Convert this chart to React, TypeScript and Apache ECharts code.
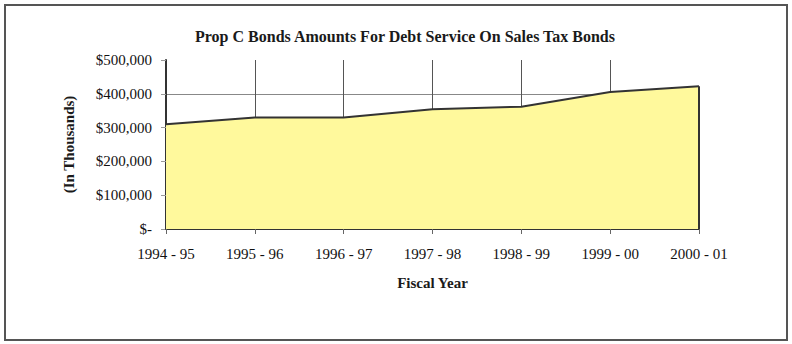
import React, { useEffect, useRef } from "react";
import * as echarts from "echarts";

const title = "Prop C Bonds Amounts For Debt Service On Sales Tax Bonds";
const categories = ["1994 - 95", "1995 - 96", "1996 - 97", "1997 - 98", "1998 - 99", "1999 - 00", "2000 - 01"];
const amounts = [310000, 330000, 330000, 354000, 362000, 405000, 422000];
const yTicks = [0, 100000, 200000, 300000, 400000, 500000];
const yAxisName = "(In Thousands)";
const xAxisName = "Fiscal Year";

const fmt = (v: number) => (v === 0 ? "$-" : "$" + v.toLocaleString("en-US"));

export default function App() {
  const ref = useRef<HTMLDivElement>(null);
  useEffect(() => {
    if (!ref.current) return;
    const chart = echarts.init(ref.current, null, { renderer: "svg" });
    const serif = "'Liberation Serif', 'Times New Roman', serif";
    const last = categories.length - 1;
    chart.setOption({
      animation: false,
      backgroundColor: "#ffffff",
      title: {
        text: title,
        left: 400,
        top: 23,
        textAlign: "center",
        textStyle: { fontFamily: serif, fontWeight: "bold", fontSize: 16, color: "#1a1a1a" },
      },
      graphic: [
        {
          type: "rect",
          shape: { x: 5, y: 5, width: 782, height: 335 },
          style: { fill: "none", stroke: "#555", lineWidth: 2 },
          silent: true,
          z: 100,
        },
      ],
      grid: { left: 166, right: 93, top: 60, bottom: 115 },
      xAxis: {
        type: "category",
        data: categories,
        boundaryGap: false,
        name: xAxisName,
        nameLocation: "middle",
        nameGap: 46,
        nameTextStyle: { fontFamily: serif, fontWeight: "bold", fontSize: 15, color: "#1a1a1a" },
        axisLine: { show: true, lineStyle: { color: "#333", width: 2 } },
        axisTick: { show: true, length: 5, inside: false, alignWithLabel: true, lineStyle: { color: "#666" } },
        axisLabel: { margin: 17, fontFamily: serif, fontSize: 15, color: "#111", interval: 0 },
        splitLine: {
          show: true,
          interval: (i: number) => i > 0 && i < last,
          lineStyle: { color: "#555", width: 1 },
        },
        z: 1,
      },
      yAxis: {
        type: "value",
        min: 0,
        max: 500000,
        interval: 100000,
        name: yAxisName,
        nameLocation: "middle",
        nameGap: 90,
        nameRotate: 90,
        nameTextStyle: { fontFamily: serif, fontWeight: "bold", fontSize: 15, color: "#1a1a1a" },
        axisLine: { show: true, lineStyle: { color: "#333", width: 2 } },
        axisTick: { show: true, length: 5, lineStyle: { color: "#999" } },
        axisLabel: {
          margin: 14,
          fontFamily: serif,
          fontSize: 15,
          color: "#111",
          formatter: (v: number) => (yTicks.includes(v) ? fmt(v) : ""),
        },
        splitLine: {
          show: true,
          lineStyle: { color: ["#888", "#888", "#888", "#888", "#888", "rgba(0,0,0,0)"], width: 1 },
        },
      },
      series: [
        {
          type: "line",
          data: amounts,
          symbol: "none",
          lineStyle: { color: "#333", width: 2 },
          areaStyle: { color: "#FFF99C", opacity: 1 },
          z: 3,
        },
        {
          type: "line",
          data: [
            [categories[last], 0],
            [categories[last], amounts[last]],
          ],
          symbol: "none",
          lineStyle: { color: "#333", width: 2 },
          z: 4,
        },
      ],
    });
    return () => chart.dispose();
  }, []);
  return <div ref={ref} style={{ position: "fixed", left: 0, top: 0, width: 792, height: 344 }} />;
}
